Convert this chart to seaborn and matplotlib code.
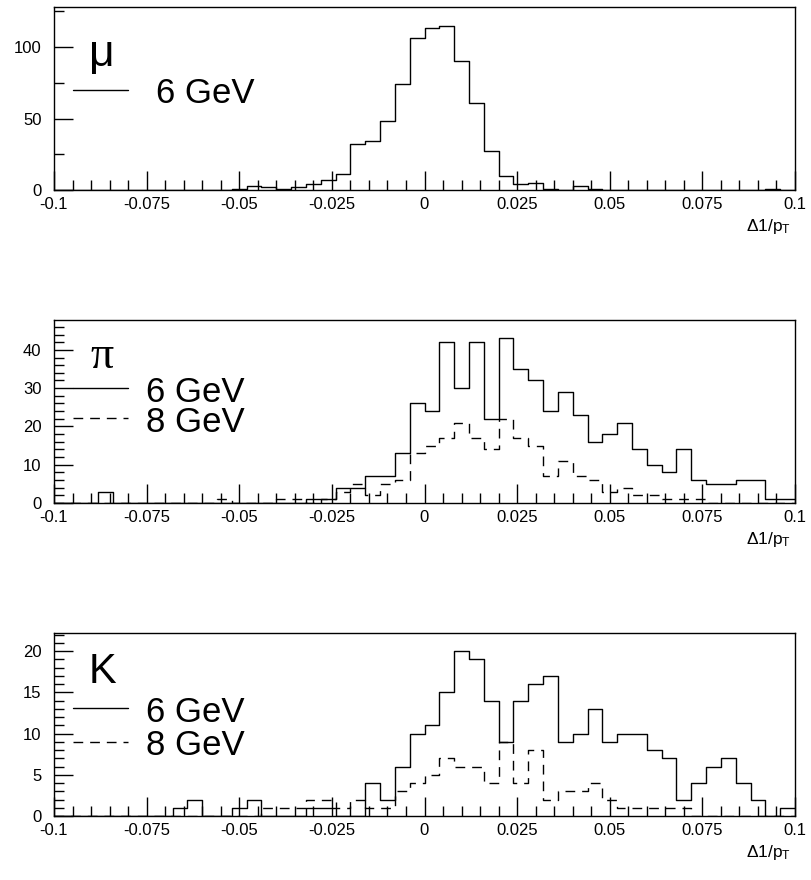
import numpy as np
import pandas as pd
import matplotlib
matplotlib.use("Agg")
import matplotlib.pyplot as plt
from matplotlib.ticker import FixedLocator, MultipleLocator, FuncFormatter
import seaborn as sns

# 50 bins of width 0.004 from -0.1 to 0.1
bin_edges = np.linspace(-0.1, 0.1, 51)

mu_6gev = [0, 0, 0, 0, 0, 0, 0, 0, 0, 0,
           0, 0, 1, 3, 2, 1, 2, 4, 7, 11,
           32, 34, 48, 74, 106, 113, 115, 90, 61, 27,
           10, 4, 5, 1, 0, 3, 1, 0, 0, 0,
           0, 0, 0, 0, 0, 0, 0, 0, 1, 0]

pi_6gev = [0, 0, 0, 3, 0, 0, 0, 0, 0, 0,
           0, 0, 0, 0, 0, 0, 0, 1, 1, 4,
           4, 7, 7, 13, 26, 24, 42, 30, 42, 22,
           43, 35, 32, 24, 29, 23, 16, 18, 21, 14,
           10, 8, 14, 6, 5, 5, 6, 6, 1, 1]

pi_8gev = [0, 0, 0, 0, 0, 0, 0, 0, 0, 0,
           0, 1, 0, 0, 0, 1, 1, 0, 1, 3,
           5, 2, 5, 6, 13, 15, 17, 21, 17, 14,
           22, 17, 15, 7, 11, 7, 6, 3, 4, 2,
           2, 1, 1, 1, 0, 0, 0, 0, 0, 0]

k_6gev = [0, 0, 0, 0, 0, 0, 0, 0, 1, 2,
          0, 0, 1, 2, 0, 0, 0, 1, 1, 0,
          0, 4, 2, 6, 10, 11, 15, 20, 19, 14,
          9, 14, 16, 17, 9, 10, 13, 9, 10, 10,
          8, 7, 2, 4, 6, 7, 4, 2, 0, 1]

k_8gev = [0, 0, 0, 0, 0, 0, 0, 0, 0, 0,
          0, 0, 0, 0, 1, 1, 1, 2, 2, 1,
          2, 1, 1, 3, 4, 5, 7, 6, 6, 4,
          9, 4, 8, 2, 3, 3, 4, 2, 1, 1,
          1, 1, 1, 0, 0, 0, 0, 0, 0, 0]

tick_values = [-0.1, -0.075, -0.05, -0.025, 0, 0.025, 0.05, 0.075, 0.1]

sns.set_style("white")
plt.rcParams["font.family"] = ["Liberation Sans", "DejaVu Sans"]
plt.rcParams["axes.unicode_minus"] = False
plt.rcParams["mathtext.fontset"] = "custom"
plt.rcParams["mathtext.rm"] = "Liberation Sans"
for key in ["text.color", "axes.labelcolor", "xtick.color", "ytick.color", "axes.edgecolor"]:
    plt.rcParams[key] = "black"

DASH = (0, (7, 5))

fig = plt.figure(figsize=(8.11, 8.8), dpi=100)
fig.patch.set_facecolor("white")

# panel geometry in pixels (left, right, top, bottom)
W, H = 811, 880
left, right = 54, 795
panels = [
    dict(top=7, bottom=190, ymax=128, major=50, minor=25, symbol="\u03bc",
         series=[(mu_6gev, "-", "6 GeV")]),
    dict(top=320, bottom=503, ymax=47.8, major=10, minor=2, symbol="\u03c0",
         series=[(pi_6gev, "-", "6 GeV"), (pi_8gev, DASH, "8 GeV")]),
    dict(top=633, bottom=816, ymax=22.2, major=5, minor=1, symbol="K",
         series=[(k_6gev, "-", "6 GeV"), (k_8gev, DASH, "8 GeV")]),
]

centers = (bin_edges[:-1] + bin_edges[1:]) / 2


def fmt_tick(v, pos=None):
    v = round(v, 4)
    if v == 0:
        return "0"
    return f"{v:g}"


for i, p in enumerate(panels):
    h = p["bottom"] - p["top"]
    ax = fig.add_axes([left / W, 1 - p["bottom"] / H, (right - left) / W, h / H])

    for counts, ls, _ in p["series"]:
        df = pd.DataFrame({"x": centers, "n": counts})
        sns.histplot(data=df, x="x", weights="n", binwidth=0.004, binrange=(-0.1, 0.1),
                     element="step", fill=False, color="black", linewidth=1.0,
                     linestyle=ls, ax=ax)

    ax.set_xlim(-0.1, 0.1)
    ax.set_ylim(0, p["ymax"])
    ax.set_xlabel("")
    ax.set_ylabel("")

    ax.xaxis.set_major_locator(FixedLocator(tick_values))
    ax.xaxis.set_major_formatter(FuncFormatter(fmt_tick))
    ax.xaxis.set_minor_locator(MultipleLocator(0.005))
    ax.yaxis.set_major_locator(MultipleLocator(p["major"]))
    ax.yaxis.set_minor_locator(MultipleLocator(p["minor"]))

    ax.tick_params(which="both", direction="in", bottom=True, left=True,
                   top=False, right=False, color="black", width=1.0,
                   labelsize=12, labelcolor="black")
    ax.tick_params(which="major", length=13.5)
    ax.tick_params(which="minor", length=7)
    ax.tick_params(axis="x", which="major", pad=5)
    ax.tick_params(axis="y", which="major", pad=9)
    for s in ax.spines.values():
        s.set_color("black")
        s.set_linewidth(1.0)

    # axis title below the bottom-right corner
    ax.text(0.995, -0.225, r"$\mathrm{\Delta1/p_{T}}$", transform=ax.transAxes,
            ha="right", va="baseline", fontsize=12.5)

    # particle symbol
    def fy(ypix):
        return (p["bottom"] - ypix) / h

    if p["symbol"] == "\u03c0":
        ax.text(0.049, fy(368), p["symbol"], transform=ax.transAxes,
                family=["Liberation Serif", "DejaVu Serif"], fontsize=33,
                ha="left", va="baseline")
    else:
        ax.text(0.047, fy(66 if i == 0 else 683), p["symbol"], transform=ax.transAxes,
                fontsize=32 if i == 0 else 30, ha="left", va="baseline")

    # legend entries
    if i == 0:
        entries = [(90, 103, 0.137)]
    elif i == 1:
        entries = [(388, 401.7, 0.124), (418, 431.7, 0.124)]
    else:
        entries = [(708, 721.7, 0.124), (742, 755, 0.124)]
    for (counts, ls, label), (ly, ty, tx) in zip(p["series"], entries):
        ax.plot([(73 - left) / (right - left), (128 - left) / (right - left)],
                [fy(ly), fy(ly)], transform=ax.transAxes, color="black",
                linewidth=1.0, linestyle=ls, clip_on=False)
        ax.text(tx, fy(ty), label, transform=ax.transAxes, fontsize=25,
                ha="left", va="baseline")

fig.savefig("out.png", dpi=100, facecolor="white")
